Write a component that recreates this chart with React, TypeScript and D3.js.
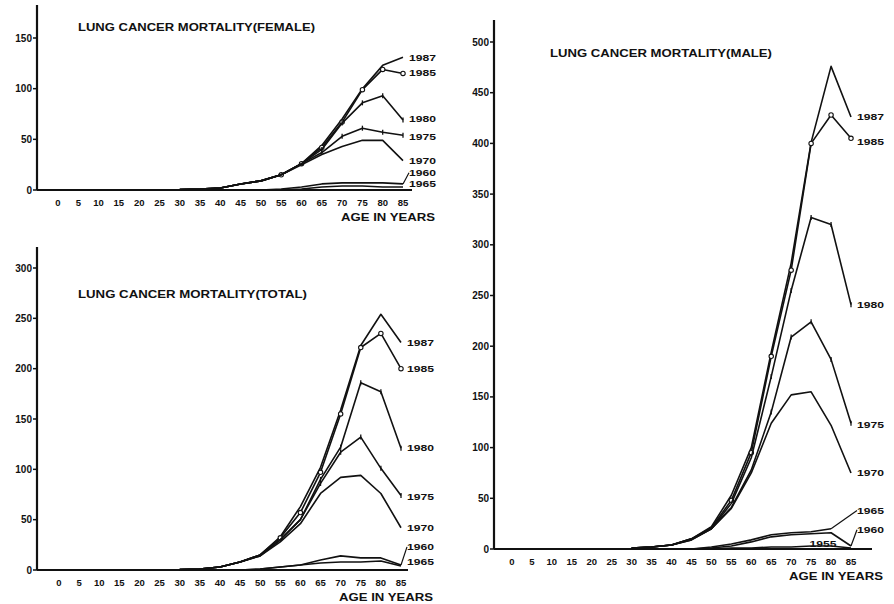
import React from 'react';
import * as d3 from 'd3';

// ages sampled in the chart (everything below 30 sits on the baseline)
const AGES = [30, 35, 40, 45, 50, 55, 60, 65, 70, 75, 80, 85];
const AGE_TICKS = d3.range(0, 90, 5);

// female
const female1987 = [0.5, 1, 2, 6, 9, 15, 26, 44, 70, 100, 123, 131];
const female1985 = [0.5, 1, 2, 6, 9, 15, 26, 42, 67, 99, 119, 115];
const female1980 = [0.5, 1, 2, 6, 9, 15, 26, 40, 66, 86, 93, 69];
const female1975 = [0.5, 1, 2, 6, 9, 15, 26, 37, 53, 61, 57, 54];
const female1970 = [0.5, 1, 2, 6, 9, 15, 25, 35, 43, 49, 49, 29];
const female1960 = [0, 0, 0, 0, 0, 1, 3, 6, 7, 7, 7, 6];
const female1965 = [0, 0, 0, 0, 0, 0, 1, 3, 4, 4, 3, 3];

// total
const total1987 = [0.5, 1, 3, 8, 15, 33, 63, 102, 159, 223, 254, 226];
const total1985 = [0.5, 1, 3, 8, 15, 32, 57, 97, 155, 221, 235, 200];
const total1980 = [0.5, 1, 3, 8, 15, 30, 50, 90, 122, 186, 177, 121];
const total1975 = [0.5, 1, 3, 8, 14, 30, 50, 86, 117, 132, 101, 74];
const total1970 = [0.5, 1, 3, 8, 14, 28, 46, 76, 92, 94, 76, 42];
const total1960 = [0, 0, 0, 0, 1, 3, 5, 10, 14, 12, 12, 5];
const total1965 = [0, 0, 0, 0, 1, 3, 5, 7, 8, 8, 9, 4];

// male
const male1987 = [1, 2, 4, 10, 22, 53, 100, 194, 282, 401, 476, 426];
const male1985 = [1, 2, 4, 10, 21, 48, 95, 190, 275, 400, 428, 405];
const male1980 = [1, 2, 4, 10, 20, 45, 90, 170, 255, 327, 320, 241];
const male1975 = [1, 2, 4, 9, 20, 41, 78, 135, 209, 224, 187, 124];
const male1970 = [1, 2, 4, 9, 20, 40, 75, 124, 152, 155, 122, 75];
const male1965 = [0, 0, 0, 0, 2, 5, 9, 14, 16, 17, 20, null];
const male1960 = [0, 0, 0, 0, 1, 3, 7, 12, 14, 15, 16, 3];
const male1955 = [0, 0, 0, 0, 0, 1, 1, 2, 2, 3, 3, 1];

// where the year label sits (value units), and optional age for inline labels
const femaleLabels = { '1987': 131, '1985': 116, '1980': 70, '1975': 53, '1970': 29, '1960': 17, '1965': 6 };
const totalLabels = { '1987': 226, '1985': 200, '1980': 122, '1975': 73, '1970': 42, '1960': 23, '1965': 8 };
const maleLabels = { '1987': 426, '1985': 402, '1980': 241, '1975': 123, '1970': 75, '1965': 38, '1960': 19, '1955': 5 };
const maleInlineAge = { '1955': 78 };

type Series = { year: string; values: (number | null)[] };

const femaleSeries: Series[] = [
  { year: '1987', values: female1987 },
  { year: '1985', values: female1985 },
  { year: '1980', values: female1980 },
  { year: '1975', values: female1975 },
  { year: '1970', values: female1970 },
  { year: '1960', values: female1960 },
  { year: '1965', values: female1965 },
];
const totalSeries: Series[] = [
  { year: '1987', values: total1987 },
  { year: '1985', values: total1985 },
  { year: '1980', values: total1980 },
  { year: '1975', values: total1975 },
  { year: '1970', values: total1970 },
  { year: '1960', values: total1960 },
  { year: '1965', values: total1965 },
];
const maleSeries: Series[] = [
  { year: '1987', values: male1987 },
  { year: '1985', values: male1985 },
  { year: '1980', values: male1980 },
  { year: '1975', values: male1975 },
  { year: '1970', values: male1970 },
  { year: '1965', values: male1965 },
  { year: '1960', values: male1960 },
  { year: '1955', values: male1955 },
];

const INK = '#111';
const FONT = '"Liberation Sans", Arial, sans-serif';

type PanelProps = {
  title: string;
  titleX: number;
  titleY: number;
  titleW: number;
  axisX: number;
  axisTop: number;
  xEnd: number;
  xRange: [number, number];
  yMax: number;
  yRange: [number, number];
  yTicks: number[];
  series: Series[];
  labels: Record<string, number>;
  inline?: Record<string, number>;
};

const Panel = ({ title, titleX, titleY, titleW, axisX, axisTop, xEnd, xRange, yMax, yRange, yTicks, series, labels, inline = {} }: PanelProps) => {
  const x = d3.scaleLinear().domain([0, 85]).range(xRange);
  const y = d3.scaleLinear().domain([0, yMax]).range(yRange);
  const y0 = y(0);

  const line = d3.line<[number, number | null]>()
    .defined(d => d[1] != null)
    .x(d => x(d[0]))
    .y(d => y(d[1] as number));

  return (
    <g>
      <text x={titleX} y={titleY} fontFamily={FONT} fontWeight="bold" fontSize={10}
        textLength={titleW} lengthAdjust="spacingAndGlyphs" fill={INK}>{title}</text>

      {/* axes */}
      <line x1={axisX} x2={axisX} y1={axisTop} y2={y0} stroke={INK} strokeWidth={2.2} />
      <line x1={axisX} x2={xEnd} y1={y0} y2={y0} stroke={INK} strokeWidth={2.2} />
      {yTicks.map(t => (
        <g key={t}>
          <line x1={axisX - 4} x2={axisX + 1} y1={y(t)} y2={y(t)} stroke={INK} strokeWidth={1.5} />
          <text x={axisX - 5} y={y(t)} dy="0.35em" textAnchor="end" fontFamily={FONT}
            fontWeight="bold" fontSize={10} fill={INK}>{t}</text>
        </g>
      ))}
      {AGE_TICKS.map(a => (
        <text key={a} x={x(a)} y={y0 + 16} textAnchor="middle" fontFamily={FONT}
          fontWeight="bold" fontSize={9.5} fill={INK}>{a}</text>
      ))}
      <text x={xRange[1] + 32} y={y0 + 31} textAnchor="end" fontFamily={FONT} fontWeight="bold"
        fontSize={10} textLength={94} lengthAdjust="spacingAndGlyphs" fill={INK}>AGE IN YEARS</text>

      {/* series */}
      {series.map(s => {
        const pts = AGES.map((a, i) => [a, s.values[i]] as [number, number | null]);
        const last = [...pts].reverse().find(p => p[1] != null) as [number, number];
        const lv = labels[s.year];
        const inl = inline[s.year];
        const lx = inl != null ? x(inl) : x(85) + 4;
        const ly = y(lv);
        const lead = inl == null && Math.abs(ly - y(last[1])) > 5;
        return (
          <g key={s.year}>
            <path d={line(pts) || ''} fill="none" stroke={INK} strokeWidth={1.6} strokeLinejoin="round" />
            {s.year === '1985' && pts.filter(p => p[0] >= 55).map(p => (
              <circle key={p[0]} cx={x(p[0])} cy={y(p[1] as number)} r={2.2} fill="#fff" stroke={INK} strokeWidth={1.1} />
            ))}
            {(s.year === '1980' || s.year === '1975') && pts.filter(p => p[0] >= 65).map(p => (
              <line key={p[0]} x1={x(p[0])} x2={x(p[0])} y1={y(p[1] as number) - 2.5} y2={y(p[1] as number) + 2.5}
                stroke={INK} strokeWidth={1.3} />
            ))}
            {lead && (
              <line x1={x(last[0])} y1={y(last[1])} x2={lx + 2} y2={ly} stroke={INK} strokeWidth={1.2} />
            )}
            <text x={inl != null ? lx : lx + 2} y={ly} dy="0.35em" textAnchor={inl != null ? 'middle' : 'start'}
              fontFamily={FONT} fontWeight="bold" fontSize={9.5} textLength={27}
              lengthAdjust="spacingAndGlyphs" fill={INK}>{s.year}</text>
          </g>
        );
      })}
    </g>
  );
};

export default function App() {
  return (
    <svg width={894} height={604} style={{ position: 'absolute', left: 0, top: 0, background: '#fff' }}>
      <rect width={894} height={604} fill="#fff" />
      <Panel title="LUNG CANCER MORTALITY(FEMALE)" titleX={78} titleY={31} titleW={237}
        axisX={37} axisTop={5} xEnd={412} xRange={[58, 403]} yMax={150} yRange={[190, 38]}
        yTicks={[0, 50, 100, 150]} series={femaleSeries} labels={femaleLabels} />
      <Panel title="LUNG CANCER MORTALITY(TOTAL)" titleX={78} titleY={298} titleW={229}
        axisX={37} axisTop={247} xEnd={408} xRange={[59, 401]} yMax={300} yRange={[570, 268]}
        yTicks={[0, 50, 100, 150, 200, 250, 300]} series={totalSeries} labels={totalLabels} />
      <Panel title="LUNG CANCER MORTALITY(MALE)" titleX={550} titleY={57} titleW={222}
        axisX={494} axisTop={20} xEnd={872} xRange={[512, 851]} yMax={500} yRange={[549, 42]}
        yTicks={[0, 50, 100, 150, 200, 250, 300, 350, 400, 450, 500]} series={maleSeries}
        labels={maleLabels} inline={maleInlineAge} />
    </svg>
  );
}
